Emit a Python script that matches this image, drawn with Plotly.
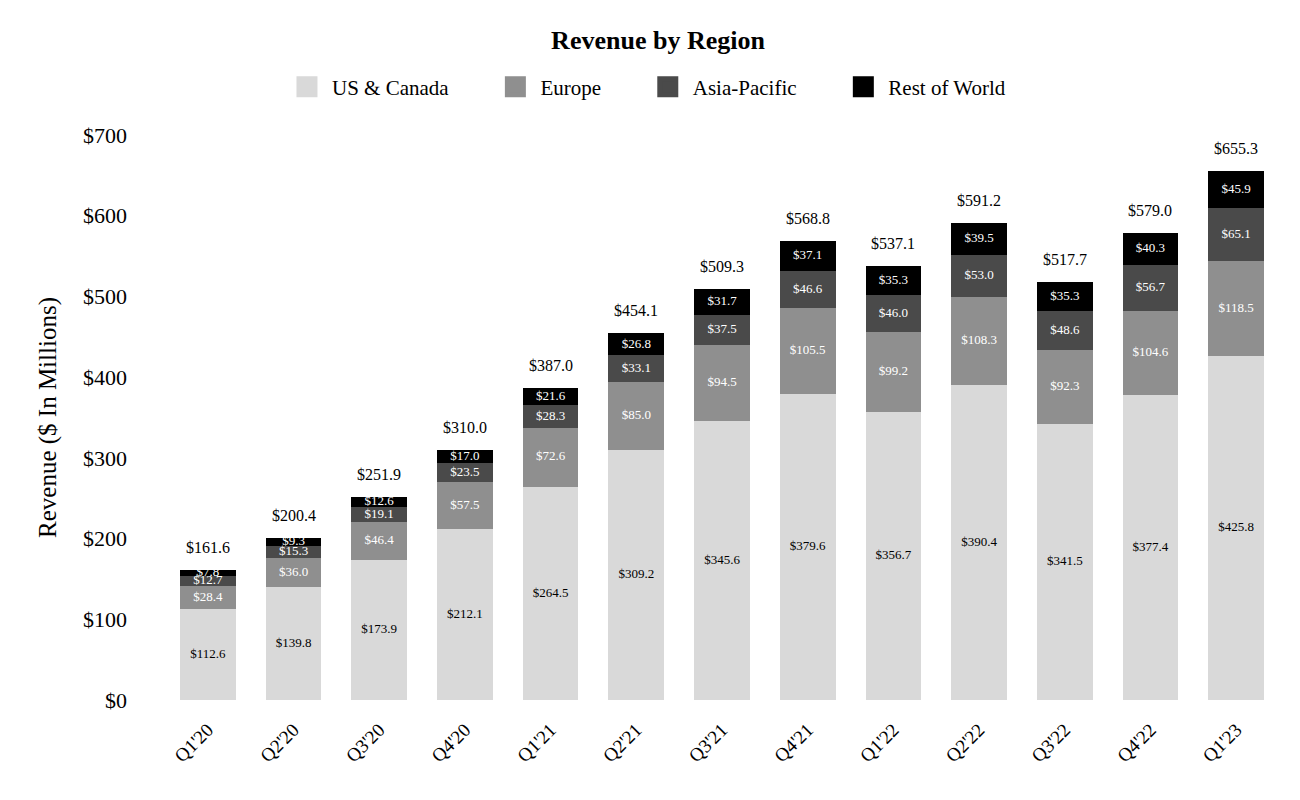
import plotly.graph_objects as go

quarters = ["Q1'20", "Q2'20", "Q3'20", "Q4'20", "Q1'21", "Q2'21", "Q3'21",
            "Q4'21", "Q1'22", "Q2'22", "Q3'22", "Q4'22", "Q1'23"]

us_canada = [112.6, 139.8, 173.9, 212.1, 264.5, 309.2, 345.6, 379.6, 356.7, 390.4, 341.5, 377.4, 425.8]
europe = [28.4, 36.0, 46.4, 57.5, 72.6, 85.0, 94.5, 105.5, 99.2, 108.3, 92.3, 104.6, 118.5]
asia_pacific = [12.7, 15.3, 19.1, 23.5, 28.3, 33.1, 37.5, 46.6, 46.0, 53.0, 48.6, 56.7, 65.1]
rest_of_world = [7.8, 9.3, 12.6, 17.0, 21.6, 26.8, 31.7, 37.1, 35.3, 39.5, 35.3, 40.3, 45.9]
totals = [161.6, 200.4, 251.9, 310.0, 387.0, 454.1, 509.3, 568.8, 537.1, 591.2, 517.7, 579.0, 655.3]

series = [
    ("US & Canada", us_canada, "#d9d9d9", "black"),
    ("Europe", europe, "#8f8f8f", "white"),
    ("Asia-Pacific", asia_pacific, "#4a4a4a", "white"),
    ("Rest of World", rest_of_world, "#000000", "white"),
]

FONT = "Liberation Serif"
PAD = "\u00a0" * 7  # extra room after each legend entry

fig = go.Figure()
base = [0.0] * len(quarters)
for name, vals, color, txtcol in series:
    fig.add_trace(go.Bar(
        x=quarters, y=vals, name=name, legendgroup=name, showlegend=False,
        marker_color=color, marker_line_width=0,
        hoverinfo="y+name",
    ))
    # legend swatch (bigger square than the bar default)
    fig.add_trace(go.Scatter(
        x=[None], y=[None], mode="markers", name=name + PAD, legendgroup=name,
        marker=dict(symbol="square", size=16, color=color,
                    line=dict(width=5, color=color)),
    ))
    mids = [b + v / 2 for b, v in zip(base, vals)]
    fig.add_trace(go.Scatter(
        x=quarters, y=mids, mode="text",
        text=["$%.1f" % v for v in vals],
        textposition="middle center",
        textfont=dict(family=FONT, size=13, color=txtcol),
        showlegend=False, hoverinfo="skip", cliponaxis=False,
    ))
    base = [b + v for b, v in zip(base, vals)]

for q, t in zip(quarters, totals):
    fig.add_annotation(x=q, y=t, text="$%.1f" % t, showarrow=False,
                       yanchor="bottom", yshift=12,
                       font=dict(family=FONT, size=16, color="black"))

fig.update_layout(
    barmode="stack",
    bargap=0.35,
    width=1300, height=800,
    margin=dict(l=157, r=29, t=127, b=108),
    paper_bgcolor="white", plot_bgcolor="white",
    font=dict(family=FONT, color="black"),
    title=dict(text="<b>Revenue by Region</b>", x=0.5, xanchor="center",
               y=0.96, yanchor="middle", font=dict(size=26, family=FONT)),
    legend=dict(orientation="h", x=0.105, xanchor="left", y=1.085, yanchor="middle",
                font=dict(size=21, family=FONT), itemwidth=40, traceorder="normal"),
    xaxis=dict(range=[-0.5, len(quarters) - 0.5], tickangle=-45,
               tickfont=dict(size=19, family=FONT), showline=False, ticklabelstandoff=14,
               ticks="", showgrid=False, automargin=False),
    yaxis=dict(range=[0, 700], dtick=100, tickprefix="$", tickfont=dict(size=22, family=FONT),
               ticklabelstandoff=37, automargin=False,
               title=dict(text="Revenue ($ In Millions)", font=dict(size=25, family=FONT), standoff=19),
               showgrid=False, zeroline=False, showline=False, ticks=""),
)

fig.write_html("out.html")
